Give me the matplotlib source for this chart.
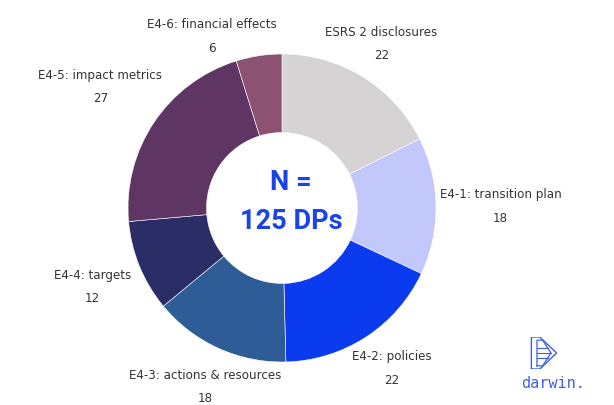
import matplotlib
matplotlib.use("Agg")
import matplotlib.pyplot as plt
import numpy as np

# data
labels = ["ESRS 2 disclosures", "E4-1: transition plan", "E4-2: policies",
          "E4-3: actions & resources", "E4-4: targets", "E4-5: impact metrics",
          "E4-6: financial effects"]
values = [22, 18, 22, 18, 12, 27, 6]
colors = ["#d5d3d3", "#c3c8fb", "#0b3bef", "#2e5c96", "#2b2d66", "#5e3563", "#8b5272"]
center_text = "N =\n125 DPs"

# label placement (radius multiple, angle tweak in degrees)
lab_r = [1.25, 1.42, 1.26, 1.26, 1.33, 1.42, 1.21]
lab_da = [0.6, 0, 1.5, 1.1, 0, 0, 13.4]

W, H = 614, 406
fig = plt.figure(figsize=(W / 100, H / 100), dpi=100, facecolor="white")
cx, cy, R = 282, 406 - 209, 154
ax = fig.add_axes([(cx - R) / W, (cy - R) / H, 2 * R / W, 2 * R / H])

wedges, _ = ax.pie(values, colors=colors, startangle=90, counterclock=False,
                   radius=1, wedgeprops=dict(width=0.51, edgecolor="white", linewidth=0.4))
ax.set_xlim(-1, 1); ax.set_ylim(-1, 1)
ax.set_aspect("equal")
ax.axis("off")

lab_font = ["Liberation Sans Narrow", "DejaVu Sans"]
for w, lab, v, r, da in zip(wedges, labels, values, lab_r, lab_da):
    ang = np.deg2rad((w.theta1 + w.theta2) / 2 + da)
    x, y = r * np.cos(ang), r * np.sin(ang)
    ax.text(x, y, f"{lab}\n{v}", ha="center", va="center", fontsize=8.6,
            color="#333333", family=lab_font, linespacing=2.05, clip_on=False)

ax.text(0.06, 0.045, center_text, ha="center", va="center", fontsize=19.5,
        fontweight="bold", color="#1a45e6", family=["Roboto", "DejaVu Sans"],
        linespacing=1.55)

# darwin logo
lg = fig.add_axes([530 / W, (406 - 370) / H, 28 / W, 32 / H])
lg.set_xlim(0, 1); lg.set_ylim(0, 1); lg.axis("off")
blue = "#3f5fe6"
lg.plot([0.05, 0.05, 0.35, 0.95, 0.35, 0.05], [0.0, 1.0, 1.0, 0.5, 0.0, 0.0], color=blue, lw=1.0)
lg.plot([0.25, 0.25, 0.45, 0.75, 0.45, 0.25], [0.1, 0.9, 0.9, 0.5, 0.1, 0.1], color=blue, lw=0.9)
for yy in [0.35, 0.5, 0.65]:
    lg.plot([0.25, 0.75 - abs(yy - 0.5) * 0.6], [yy, yy], color=blue, lw=0.8)
fig.text(553 / W, 1 - 384 / H, "darwin.", ha="center", va="center", fontsize=11,
         color=blue, family="DejaVu Sans Mono")

fig.savefig("out.png", dpi=100, facecolor="white")
